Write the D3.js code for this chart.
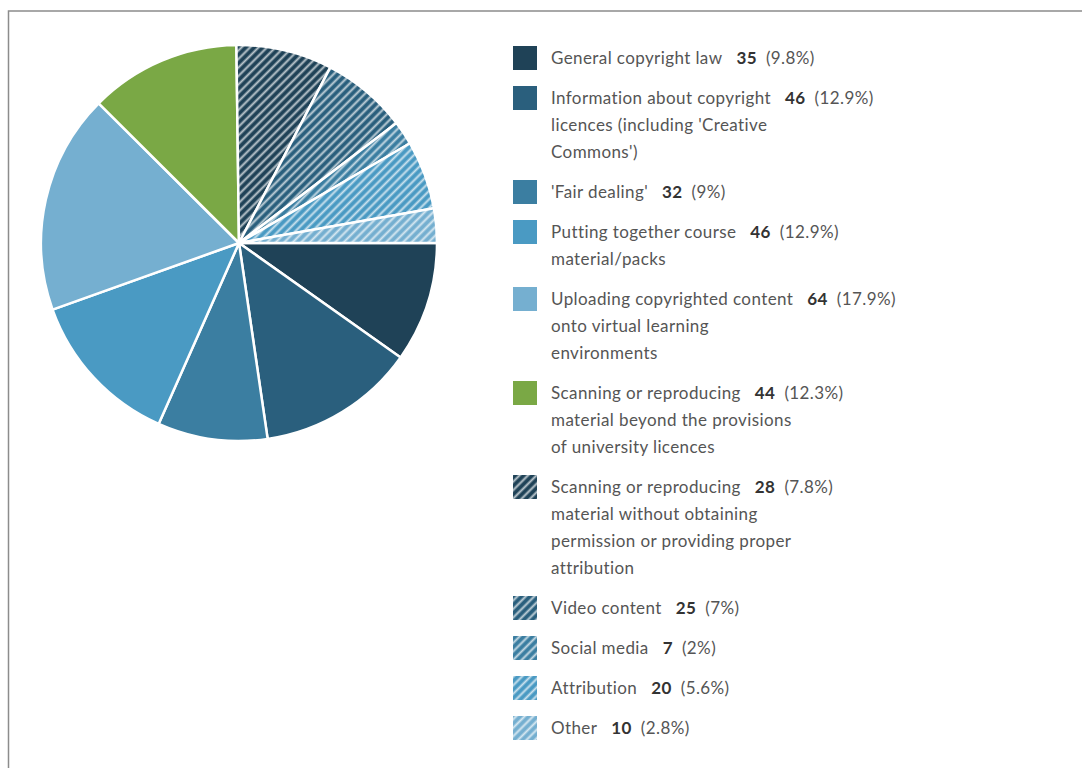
<!DOCTYPE html>
<html>
<head>
<meta charset="utf-8">
<script src="https://cdn.jsdelivr.net/npm/d3@7"></script>
<style>
  html, body { margin: 0; padding: 0; background: #fff; }
  svg { display: block; }
  .legend-label { font-family: Lato, "Open Sans", sans-serif; font-size: 17px; letter-spacing: 0.4px; fill: #555; }
  .legend-value { font-weight: bold; fill: #333; }
</style>
</head>
<body>
<svg id="chart" width="1082" height="768"></svg>
<script>

// Categories, in drawing order (clockwise from 3 o'clock)
var labels = [
	[ 'General copyright law' ],
	[ 'Information about copyright', 'licences (including \'Creative', 'Commons\')' ],
	[ '\'Fair dealing\'' ],
	[ 'Putting together course', 'material/packs' ],
	[ 'Uploading copyrighted content', 'onto virtual learning', 'environments' ],
	[ 'Scanning or reproducing', 'material beyond the provisions', 'of university licences' ],
	[ 'Scanning or reproducing', 'material without obtaining', 'permission or providing proper', 'attribution' ],
	[ 'Video content' ],
	[ 'Social media' ],
	[ 'Attribution' ],
	[ 'Other' ]
];
var values = [ 35, 46, 32, 46, 64, 44, 28, 25, 7, 20, 10 ];
var percents = [ '9.8%', '12.9%', '9%', '12.9%', '17.9%', '12.3%', '7.8%', '7%', '2%', '5.6%', '2.8%' ];
var colors = [ '#1f4257', '#2a5f7d', '#3b7ea1', '#4a9ac3', '#75afd0', '#7aa845', '#1f4257', '#2a5f7d', '#3b7ea1', '#4a9ac3', '#75afd0' ];
var hatched = [ false, false, false, false, false, false, true, true, true, true, true ];

var svg = d3.select( '#chart' );

// frame
svg.append( 'rect' )
	.attr( 'x', 8.5 )
	.attr( 'y', 11 )
	.attr( 'width', 1200 )
	.attr( 'height', 900 )
	.attr( 'fill', 'none' )
	.attr( 'stroke', '#8c8c8c' )
	.attr( 'stroke-width', 1.5 );

// hatch patterns
var defs = svg.append( 'defs' );
colors.forEach( function ( c, i ) {
	if ( !hatched[i] ) {
		return;
	}
	var p = defs.append( 'pattern' )
		.attr( 'id', 'hatch-' + i )
		.attr( 'patternUnits', 'userSpaceOnUse' )
		.attr( 'width', 6 )
		.attr( 'height', 6 )
		.attr( 'patternTransform', 'rotate(45)' );
	p.append( 'rect' ).attr( 'width', 6 ).attr( 'height', 6 ).attr( 'fill', c );
	p.append( 'line' )
		.attr( 'x1', 1.5 ).attr( 'y1', 0 )
		.attr( 'x2', 1.5 ).attr( 'y2', 6 )
		.attr( 'stroke', '#fff' )
		.attr( 'stroke-opacity', 0.7 )
		.attr( 'stroke-width', 2 );
} );

function fillFor( i ) {
	return hatched[i] ? 'url(#hatch-' + i + ')' : colors[i];
}

// pie
var cx = 239, cy = 243, radius = 198;

var pie = d3.pie()
	.sort( null )
	.startAngle( Math.PI / 2 )
	.endAngle( Math.PI / 2 + 2 * Math.PI );

var arc = d3.arc().innerRadius( 0 ).outerRadius( radius );

svg.append( 'g' )
	.attr( 'transform', 'translate(' + cx + ',' + cy + ')' )
	.selectAll( 'path' )
	.data( pie( values ) )
	.enter()
	.append( 'path' )
	.attr( 'd', arc )
	.attr( 'fill', function ( d, i ) { return fillFor( i ); } )
	.attr( 'stroke', '#fff' )
	.attr( 'stroke-width', 2.5 )
	.attr( 'stroke-linejoin', 'round' );

// legend
var legendX = 513, textX = 551, firstY = 58, lineH = 27, gap = 40;
var swatch = 24;

var y = firstY;
var rows = labels.map( function ( lines, i ) {
	var row = { i: i, y: y, lines: lines };
	y += gap + ( lines.length - 1 ) * lineH;
	return row;
} );

var items = svg.append( 'g' ).selectAll( 'g' )
	.data( rows )
	.enter()
	.append( 'g' );

items.append( 'rect' )
	.attr( 'x', legendX )
	.attr( 'y', function ( d ) { return d.y - swatch / 2; } )
	.attr( 'width', swatch )
	.attr( 'height', swatch )
	.attr( 'fill', function ( d ) { return fillFor( d.i ); } );

items.each( function ( d ) {
	var g = d3.select( this );
	d.lines.forEach( function ( line, k ) {
		var t = g.append( 'text' )
			.attr( 'class', 'legend-label' )
			.attr( 'x', textX )
			.attr( 'y', d.y + k * lineH )
			.attr( 'dy', '0.35em' );
		t.append( 'tspan' ).text( line );
		if ( k === 0 ) {
			t.append( 'tspan' ).attr( 'class', 'legend-value' ).attr( 'dx', 14 ).text( values[d.i] );
			t.append( 'tspan' ).attr( 'dx', 9 ).text( '(' + percents[d.i] + ')' );
		}
	} );
} );

</script>
</body>
</html>
